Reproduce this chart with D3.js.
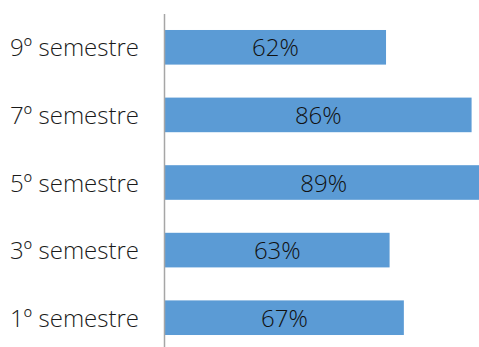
<!DOCTYPE html>
<meta charset='utf-8'>
<title>Semestres</title>
<style>
body {
  margin: 0;
  background-color: #fff;
}
text {
  font-family: "Open Sans", sans-serif;
  font-weight: 300;
}
</style>
<svg width="479" height="347"></svg>
<script src="https://d3js.org/d3.v7.min.js"></script>
<script>

// values (top to bottom)
var semesters = ["9º semestre", "7º semestre", "5º semestre", "3º semestre", "1º semestre"];
var percents = [62, 86, 89, 63, 67];

var svg = d3.select("svg");

var x = d3.scaleLinear()
    .domain([0, 100])
    .range([165, 521.5]);

var y = d3.scaleBand()
    .domain(semesters)
    .range([-3, 368])
    .padding(0.488);

var data = semesters.map(function(s, i) { return { name: s, value: percents[i] }; });

// bars
svg.selectAll("rect.bar")
    .data(data)
  .enter().append("rect")
    .attr("class", "bar")
    .attr("x", x(0))
    .attr("y", function(d) { return y(d.name); })
    .attr("width", function(d) { return x(d.value) - x(0); })
    .attr("height", y.bandwidth())
    .attr("fill", "#5b9bd5");

// value labels, centred in each bar
svg.selectAll("text.value")
    .data(data)
  .enter().append("text")
    .attr("class", "value")
    .attr("x", function(d) { return (x(0) + x(d.value)) / 2; })
    .attr("y", function(d) { return y(d.name) + y.bandwidth() / 2; })
    .attr("dy", "0.38em")
    .attr("text-anchor", "middle")
    .attr("font-size", 24)
    .attr("fill", "#111")
    .text(function(d) { return d.value + "%"; });

// category axis
var g = svg.append("g")
    .attr("transform", "translate(" + x(0) + ",0)")
    .call(d3.axisLeft(y).tickSize(0).tickPadding(26));

g.select(".domain").remove();

g.selectAll(".tick text")
    .attr("font-family", "Open Sans, sans-serif")
    .attr("font-size", 24)
    .attr("fill", "#1a1a1a")
    .attr("dy", "0.38em");

// vertical axis line
svg.append("line")
    .attr("x1", 164.5)
    .attr("x2", 164.5)
    .attr("y1", 14)
    .attr("y2", 347)
    .attr("stroke", "#a6a6a6")
    .attr("stroke-width", 1.5);

</script>
